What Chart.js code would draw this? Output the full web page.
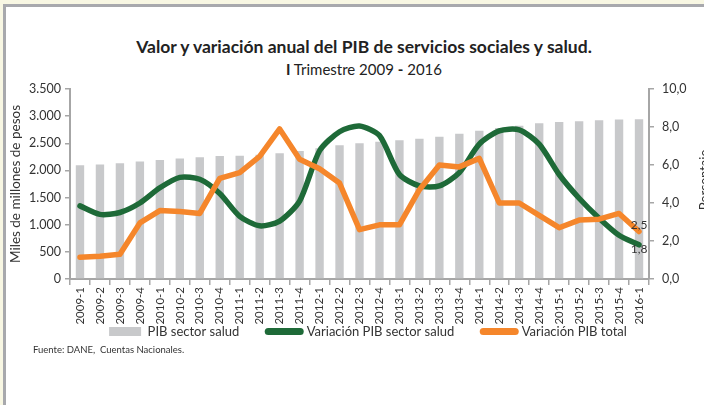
<!DOCTYPE html>
<html>
<head>
<meta charset="utf-8">
<script src="https://cdn.jsdelivr.net/npm/chart.js@4.4.0/dist/chart.umd.min.js"></script>
<style>
    html, body { margin: 0; padding: 0; width: 704px; height: 405px; overflow: hidden; background: #f8f7e3; }
    #frame { position: absolute; left: 3px; top: 4px; width: 720px; height: 420px; background: #fff;
             border-left: 3px solid #a8a9ad; border-top: 3px solid #a8a9ad; }
    #title { position: absolute; left: 0; top: 36px; width: 728px; text-align: center; color: #222;
             font-family: Lato, sans-serif; line-height: 22px; }
    #title .l1 { font-weight: bold; font-size: 17.5px; }
    #title .l2 { font-size: 15px; }
    #source { position: absolute; left: 33px; top: 344px; font-family: Lato, sans-serif; font-size: 9.5px; color: #333; }
    #chart { position: absolute; left: 0; top: 0; }
</style>
</head>
<body>
<div id="frame"></div>
<div id="title">
    <div class="l1">Valor y variación anual del PIB de servicios sociales y salud.</div>
    <div class="l2"><b>I</b> Trimestre 2009 <b>-</b> 2016</div>
</div>
<canvas id="chart" width="712" height="405"></canvas>
<div id="source">Fuente: DANE,&nbsp; Cuentas Nacionales.</div>

<script>
// Trimestres
const categories = ['2009-1', '2009-2', '2009-3', '2009-4', '2010-1', '2010-2', '2010-3', '2010-4',
    '2011-1', '2011-2', '2011-3', '2011-4', '2012-1', '2012-2', '2012-3', '2012-4',
    '2013-1', '2013-2', '2013-3', '2013-4', '2014-1', '2014-2', '2014-3', '2014-4',
    '2015-1', '2015-2', '2015-3', '2015-4', '2016-1'];

// PIB sector salud (miles de millones de pesos)
const pibSalud = [2095, 2110, 2130, 2165, 2190, 2220, 2245, 2265, 2270, 2290, 2315, 2360, 2410, 2465, 2500,
    2530, 2555, 2585, 2620, 2675, 2730, 2780, 2825, 2870, 2890, 2905, 2925, 2940, 2945];

// Variación anual (%)
const varSalud = [3.85, 3.4, 3.5, 4.0, 4.8, 5.35, 5.25, 4.5, 3.3, 2.8, 3.05, 4.1, 6.75, 7.75, 8.05,
    7.55, 5.5, 4.9, 4.9, 5.6, 7.1, 7.8, 7.85, 7.1, 5.5, 4.25, 3.2, 2.3, 1.8];
const varTotal = [1.15, 1.2, 1.3, 2.95, 3.6, 3.55, 3.45, 5.3, 5.6, 6.45, 7.9, 6.3, 5.8, 5.05, 2.6,
    2.85, 2.85, 4.7, 6.0, 5.9, 6.35, 4.0, 4.0, 3.35, 2.7, 3.1, 3.15, 3.45, 2.5];

const leftTicks = [0, 500, 1000, 1500, 2000, 2500, 3000, 3500];
const rightTicks = [0, 2, 4, 6, 8, 10];

const axisColor = '#a6a6a6';
const textColor = '#333';
const fontFamily = 'Lato, sans-serif';

// Etiquetas del último dato y título del eje derecho
const extrasPlugin = {
    id: 'extras',
    afterLayout(chart) {
        // subir la leyenda para que quede pegada a las etiquetas del eje x
        const lg = chart.legend;
        lg.top -= 28; lg.bottom -= 28;
        lg.left += 8; lg.right += 8;
    },
    afterDatasetsDraw(chart) {
        const ctx = chart.ctx;
        ctx.save();
        ctx.font = '12px ' + fontFamily;
        ctx.fillStyle = textColor;
        ctx.textAlign = 'center';
        ctx.textBaseline = 'middle';
        const last = categories.length - 1;
        const pTotal = chart.getDatasetMeta(2).data[last];
        const pSalud = chart.getDatasetMeta(1).data[last];
        ctx.fillText(varTotal[last].toFixed(1).replace('.', ','), pTotal.x, pTotal.y - 6);
        ctx.fillText(varSalud[last].toFixed(1).replace('.', ','), pSalud.x, pSalud.y + 4);

        ctx.font = '13px ' + fontFamily;
        ctx.translate(705, (chart.chartArea.top + chart.chartArea.bottom) / 2 - 4);
        ctx.rotate(-Math.PI / 2);
        ctx.fillText('Porcentaje', 0, 0);
        ctx.restore();
    }
};

new Chart(document.getElementById('chart'), {
    type: 'bar',
    data: {
        labels: categories,
        datasets: [{
            type: 'bar',
            label: 'PIB sector salud',
            data: pibSalud,
            backgroundColor: '#c8c9cb',
            barPercentage: 0.42,
            categoryPercentage: 1,
            yAxisID: 'y',
            order: 3
        }, {
            type: 'line',
            label: 'Variación PIB sector salud',
            data: varSalud,
            borderColor: '#1e6a38',
            backgroundColor: '#1e6a38',
            borderWidth: 5.5,
            borderCapStyle: 'round',
            borderJoinStyle: 'round',
            tension: 0.25,
            pointRadius: 0,
            yAxisID: 'y1',
            order: 2
        }, {
            type: 'line',
            label: 'Variación PIB total',
            data: varTotal,
            borderColor: '#f5862b',
            backgroundColor: '#f5862b',
            borderWidth: 5.5,
            borderCapStyle: 'round',
            borderJoinStyle: 'round',
            tension: 0,
            pointRadius: 0,
            yAxisID: 'y1',
            order: 1
        }]
    },
    options: {
        responsive: false,
        animation: false,
        layout: { padding: { top: 89, left: 8, right: 0, bottom: 29 } },
        plugins: {
            tooltip: { enabled: false },
            legend: {
                position: 'bottom',
                labels: {
                    usePointStyle: true,
                    pointStyleWidth: 32,
                    boxHeight: 9,
                    padding: 29,
                    color: textColor,
                    font: { family: fontFamily, size: 13 },
                    sort: (a, b) => a.datasetIndex - b.datasetIndex,
                    generateLabels(chart) {
                        const items = Chart.defaults.plugins.legend.labels.generateLabels(chart);
                        items.forEach(item => {
                            if (item.datasetIndex === 0) {
                                item.pointStyle = 'rect';
                                item.lineWidth = 0;
                                item.strokeStyle = 'rgba(0,0,0,0)';
                            } else {
                                item.pointStyle = 'line';
                                item.lineWidth = 7;
                                item.lineCap = 'round';
                            }
                        });
                        return items;
                    }
                }
            }
        },
        scales: {
            x: {
                grid: { drawOnChartArea: false, tickLength: 6, color: axisColor, lineWidth: 1.5 },
                border: { color: axisColor, width: 2 },
                ticks: {
                    minRotation: 90, maxRotation: 90, autoSkip: false, padding: 2,
                    color: textColor, font: { family: fontFamily, size: 11.5 }
                },
                afterFit(scale) { scale.height = 45; }
            },
            y: {
                position: 'left',
                min: 0, max: 3500,
                afterBuildTicks(scale) { scale.ticks = leftTicks.map(v => ({ value: v })); },
                grid: { drawOnChartArea: false, tickLength: 5, color: axisColor, lineWidth: 1.5 },
                border: { color: axisColor, width: 2 },
                ticks: {
                    padding: 4, color: textColor, font: { family: fontFamily, size: 12.5 },
                    callback: v => v.toLocaleString('de-DE')
                },
                title: {
                    display: true, text: 'Miles de millones de pesos', color: textColor,
                    font: { family: fontFamily, size: 13.5 }, padding: 0
                },
                afterFit(scale) { scale.width = 62; }
            },
            y1: {
                position: 'right',
                min: 0, max: 10,
                afterBuildTicks(scale) { scale.ticks = rightTicks.map(v => ({ value: v })); },
                grid: { drawOnChartArea: false, tickLength: 5, color: axisColor, lineWidth: 1.5 },
                border: { color: axisColor, width: 2 },
                ticks: {
                    padding: 8, color: textColor, font: { family: fontFamily, size: 12.5 },
                    callback: v => v.toFixed(1).replace('.', ',')
                },
                afterFit(scale) { scale.width = 63; }
            }
        }
    },
    plugins: [extrasPlugin]
});
</script>
</body>
</html>
